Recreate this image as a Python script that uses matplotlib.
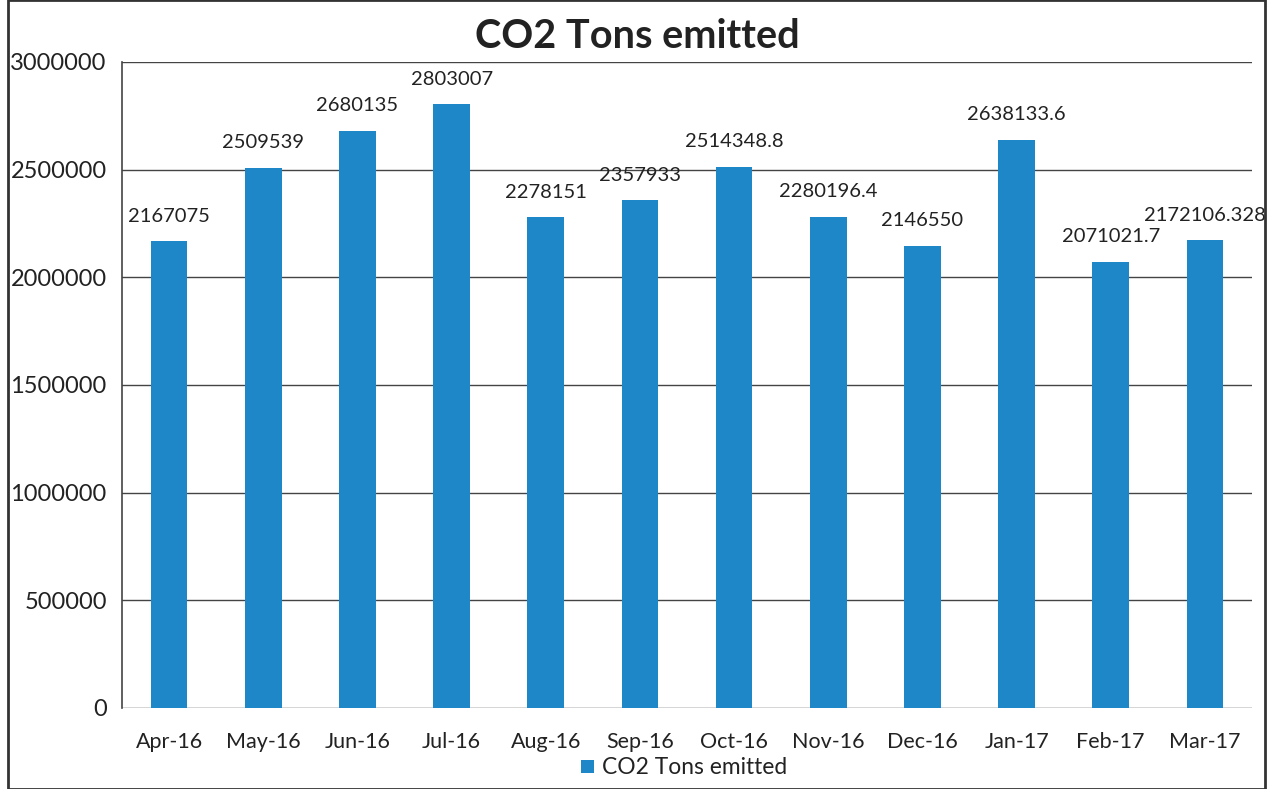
import matplotlib
matplotlib.use("Agg")
import matplotlib.pyplot as plt
from matplotlib.patches import Rectangle

categories = ["Apr-16", "May-16", "Jun-16", "Jul-16", "Aug-16", "Sep-16",
              "Oct-16", "Nov-16", "Dec-16", "Jan-17", "Feb-17", "Mar-17"]
values = [2167075, 2509539, 2680135, 2803007, 2278151, 2357933,
          2514348.8, 2280196.4, 2146550, 2638133.6, 2071021.7, 2172106.328]
labels = ["2167075", "2509539", "2680135", "2803007", "2278151", "2357933",
          "2514348.8", "2280196.4", "2146550", "2638133.6", "2071021.7", "2172106.328"]
yticks = [0, 500000, 1000000, 1500000, 2000000, 2500000, 3000000]

plt.rcParams['font.family'] = ['Lato', 'DejaVu Sans']

W, H = 1275, 789
fig = plt.figure(figsize=(W/100, H/100), dpi=100)
ax = fig.add_axes([122/W, 1-708/H, (1252-122)/W, (708-62)/H])

color = '#1E87C7'
x = list(range(len(categories)))
ax.bar(x, values, width=0.39, color=color, zorder=3, label="CO2 Tons emitted")
for xi, v, lab in zip(x, values, labels):
    ax.annotate(lab, (xi, v), xytext=(0, 12), textcoords='offset points',
                ha='center', va='bottom', fontsize=14.5, color='#222222', zorder=4)

ax.set_ylim(0, 3000000)
ax.set_xlim(-0.5, len(categories)-0.5)
ax.set_yticks(yticks)
ax.set_yticklabels([str(t) for t in yticks], fontsize=17, color='#222222')
ax.set_xticks(x)
ax.set_xticklabels(categories, fontsize=15.5, color='#222222')
ax.tick_params(axis='y', length=0, pad=11)
ax.tick_params(axis='x', length=0, pad=17)
ax.yaxis.grid(True, color='#444444', linewidth=1.0, zorder=0)
for s in ['top', 'right', 'bottom']:
    ax.spines[s].set_visible(False)
ax.spines['left'].set_color('#444444')
ax.spines['left'].set_linewidth(1.2)
ax.axhline(0, color='#999999', linewidth=0.8, zorder=2)

fig.text(637/W, 1-37/H, "CO2 Tons emitted", ha='center', va='center',
         fontsize=28.5, fontweight='bold', color='#222222')

leg = fig.legend(loc='center', bbox_to_anchor=(684/W, 1-768/H), frameon=False,
                 fontsize=16.4, handlelength=0.55, handleheight=0.55, handletextpad=0.35,
                 borderpad=0, borderaxespad=0)
for t in leg.get_texts():
    t.set_color('#222222')

fig.patches.append(Rectangle((8/W, 0), (1265-8)/W, 1.0, transform=fig.transFigure,
                             fill=False, edgecolor='#333333', linewidth=2))

fig.savefig("out.png", dpi=100)
